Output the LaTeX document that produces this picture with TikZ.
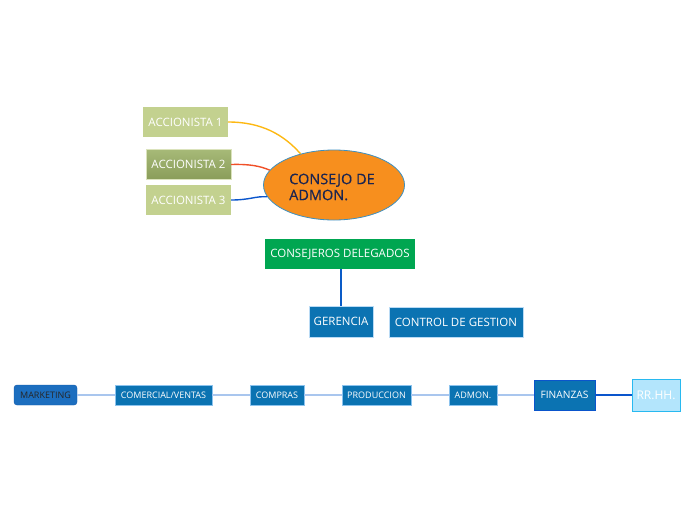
\documentclass[tikz,border=0pt]{standalone}
\usepackage{fontspec}
\setmainfont{Open Sans}
\newfontfamily\gruesa[FakeBold=0.4]{Open Sans}
\usetikzlibrary{shapes.geometric}
\definecolor{accverde}{HTML}{C3D18F}
\definecolor{accoscuro}{HTML}{8A9D5A}
\definecolor{accclaro}{HTML}{A6B977}
\definecolor{naranja}{HTML}{F78F1E}
\definecolor{azulcaja}{HTML}{0B73B2}
\definecolor{azulborde}{HTML}{8CC3EE}
\definecolor{azullinea}{HTML}{A9C6EE}
\definecolor{azulfuerte}{HTML}{0A55CC}
\definecolor{verdecons}{HTML}{00A651}
\definecolor{texto}{HTML}{1B2550}
\begin{document}
\begin{tikzpicture}[x=1pt, y=-1pt, every node/.style={inner sep=0pt, text=white, font=\fontsize{11.5}{13}\selectfont},
  accbox/.style={fill=accverde, minimum width=85, minimum height=30},
  cajaazul/.style={fill=azulcaja, draw=azulborde, line width=0.8pt, minimum height=20, font=\fontsize{9}{10}\selectfont}]
\useasboundingbox (0,0) rectangle (696,520);
% accionistas y consejo
\node[accbox] (acc1) at (185.5,122) {ACCIONISTA 1};
\node[accbox, top color=accclaro, bottom color=accoscuro, draw=accverde!60!white] (acc2) at (188.5,164.5) {ACCIONISTA 2};
\node[accbox] (acc3) at (188.5,200) {ACCIONISTA 3};
\node[ellipse, fill=naranja, draw=azulcaja!80, line width=0.8pt, minimum width=141, minimum height=70] (consejo) at (334,185) {};
\node[text=texto, align=left, anchor=west, font=\gruesa\fontsize{14.5}{16}\selectfont] (consejotxt) at (289,187) {CONSEJO DE\\ADMON.};
\draw[line width=1.4pt, color={rgb,255:red,253;green,184;blue,19}] (acc1.east) .. controls (262,122) and (284,135) .. (consejo.137);
\draw[line width=1.4pt, color={rgb,255:red,240;green,80;blue,40}] (acc2.east) .. controls (250,164) and (260,166) .. (consejo.167);
\draw[line width=1.4pt, color=azulfuerte] (acc3.east) .. controls (250,200) and (255,196) .. (consejo.190);
% consejeros y gerencia
\node[fill=verdecons, minimum width=150, minimum height=30] (delegados) at (340,254) {CONSEJEROS DELEGADOS};
\node[fill=azulcaja, minimum width=64, minimum height=31, draw=azulborde!60, line width=0.5pt] (gerencia) at (341,321.5) {GERENCIA};
\node[fill=azulcaja, minimum width=134, minimum height=30, draw=azulborde!60, line width=0.5pt] (control) at (456,322) {CONTROL DE GESTION};
\draw[line width=1.8pt, color=azulfuerte!80!azulcaja] (delegados.south -| gerencia.north) -- (gerencia.north);
% fila de departamentos
\node[fill={rgb,255:red,28;green,110;blue,191}, draw={rgb,255:red,20;green,90;blue,170}, rounded corners=3pt, minimum width=63, minimum height=20, text=black!85, font=\fontsize{9}{10}\selectfont] (marketing) at (45.5,395) {MARKETING};
\foreach \n/\x/\w/\t in {comercial/163.5/97/COMERCIAL\slash VENTAS, compras/277/54/COMPRAS, produccion/376.5/69/PRODUCCION, admon/473/48/ADMON.}
  {\node[cajaazul, minimum width=\w] (\n) at (\x,395) {\t};}
\node[fill=azulcaja, draw=azulfuerte, line width=0.8pt, minimum width=61, minimum height=30, font=\fontsize{10.2}{12}\selectfont] (finanzas) at (564.5,395) {FINANZAS};
\node[fill={rgb,255:red,179;green,229;blue,252}, draw={rgb,255:red,40;green,185;blue,240}, line width=1pt, minimum width=48, minimum height=32, font=\fontsize{12}{13}\selectfont] (rrhh) at (656,395) {RR.HH.};
\foreach \a/\b in {marketing/comercial, comercial/compras, compras/produccion, produccion/admon, admon/finanzas}
  {\draw[line width=1.5pt, color=azullinea] (\a.east) -- (\b.west);}
\draw[line width=2pt, color=azulfuerte] (finanzas.east) -- (rrhh.west);
\end{tikzpicture}
\end{document}
